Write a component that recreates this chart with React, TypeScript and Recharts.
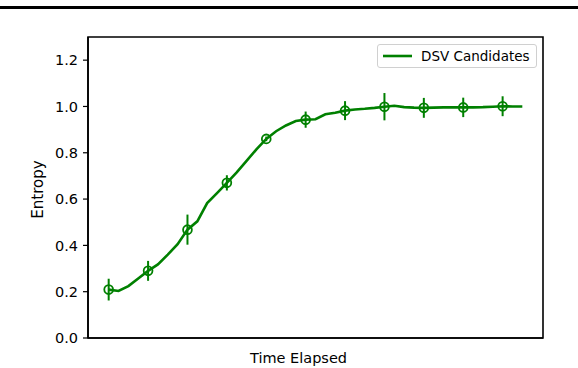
import React from 'react';
import { ComposedChart, Line, Scatter, XAxis, YAxis, ErrorBar, ReferenceArea } from 'recharts';

const GREEN = '#008000';

const entropyCurve = [
  0.209, 0.203, 0.224, 0.257, 0.290, 0.318, 0.360, 0.405,
  0.468, 0.504, 0.583, 0.626, 0.670, 0.715, 0.765, 0.815,
  0.860, 0.893, 0.918, 0.937, 0.943, 0.945, 0.966, 0.973,
  0.982, 0.987, 0.990, 0.994, 0.999, 1.003, 0.997, 0.995,
  0.994, 0.995, 0.996, 0.996, 0.996, 0.996, 0.997, 0.999,
  1.001, 1.000, 1.000,
];
const markerSteps = [0, 4, 8, 12, 16, 20, 24, 28, 32, 36, 40];
const markerError = [0.047, 0.043, 0.065, 0.033, 0.01, 0.035, 0.041, 0.059, 0.043, 0.042, 0.043];
const yTicks = [0, 0.2, 0.4, 0.6, 0.8, 1.0, 1.2];
const xDomain: [number, number] = [-2.1, 44.1];
const yDomain: [number, number] = [0, 1.3];

const curveData = entropyCurve.map((v, i) => ({ t: i, v }));
const markerData = markerSteps.map((s, i) => ({ t: s, v: entropyCurve[s], err: markerError[i] }));

const fontFamily = '"DejaVu Sans", sans-serif';

const MarkerShape = (props: any) => {
  const { cx, cy } = props;
  if (cx == null || cy == null) return null;
  return <circle cx={cx} cy={cy} r={4.4} fill="none" stroke={GREEN} strokeWidth={1.8} />;
};

const LegendBox = () => (
  <div
    style={{
      position: 'absolute',
      left: 377,
      top: 44,
      border: '1px solid #d0d0d0',
      borderRadius: 3,
      background: '#fff',
      width: 160,
      height: 24,
      display: 'flex',
      alignItems: 'center',
      boxSizing: 'border-box',
      fontFamily,
      fontSize: 13.5,
      color: '#000',
    }}
  >
    <svg width={43} height={10} style={{ flex: 'none' }}>
      <line x1={5} y1={5} x2={34} y2={5} stroke={GREEN} strokeWidth={2.6} />
    </svg>
    <span style={{ whiteSpace: 'nowrap' }}>DSV Candidates</span>
  </div>
);

export default function App() {
  return (
    <div style={{ position: 'absolute', left: 0, top: 0, width: 578, height: 368, background: '#fff' }}>
      <div style={{ position: 'absolute', left: 0, top: 6, width: 578, height: 3, background: '#000' }} />
      <ComposedChart
        width={578}
        height={368}
        margin={{ top: 37, right: 35, bottom: 0, left: 0 }}
        style={{ fontFamily }}
      >
        <XAxis
          dataKey="t"
          type="number"
          domain={xDomain}
          allowDataOverflow
          tick={false}
          tickLine={false}
          axisLine={{ stroke: '#000', strokeWidth: 1.6 }}
          height={30}
          label={(p: any) => {
            const vb = p.viewBox;
            return (
              <text x={vb.x + vb.width / 2 - 17} y={vb.y + 25} textAnchor="middle" fontSize={14.5} fill="#000" fontFamily={fontFamily}>
                Time Elapsed
              </text>
            );
          }}
        />
        <YAxis
          type="number"
          domain={yDomain}
          ticks={yTicks}
          allowDataOverflow
          interval={0}
          tickFormatter={(v: number) => v.toFixed(1)}
          tick={{ fontSize: 14.5, fill: '#000', fontFamily }}
          tickLine={{ stroke: '#000', strokeWidth: 1.2 }}
          tickSize={5}
          tickMargin={5}
          axisLine={{ stroke: '#000', strokeWidth: 1.6 }}
          width={88}
          label={(p: any) => {
            const vb = p.viewBox;
            const cx = vb.x + 43;
            const cy = vb.y + vb.height / 2 + 2;
            return (
              <text x={cx} y={cy} transform={`rotate(-90, ${cx}, ${cy})`} textAnchor="middle" fontSize={15} fill="#000" fontFamily={fontFamily}>
                Entropy
              </text>
            );
          }}
        />
        <ReferenceArea
          x1={xDomain[0]}
          x2={xDomain[1]}
          y1={yDomain[0]}
          y2={yDomain[1]}
          fill="none"
          fillOpacity={0}
          stroke="#000"
          strokeWidth={1.6}
          ifOverflow="visible"
        />
        <Line
          data={curveData}
          dataKey="v"
          type="linear"
          stroke={GREEN}
          strokeWidth={2.6}
          dot={false}
          activeDot={false}
          isAnimationActive={false}
          name="DSV Candidates"
        />
        <Scatter
          data={markerData}
          dataKey="v"
          shape={MarkerShape}
          isAnimationActive={false}
          legendType="none"
        >
          <ErrorBar dataKey="err" direction="y" width={0} stroke={GREEN} strokeWidth={2} isAnimationActive={false} />
        </Scatter>
      </ComposedChart>
      <LegendBox />
    </div>
  );
}
